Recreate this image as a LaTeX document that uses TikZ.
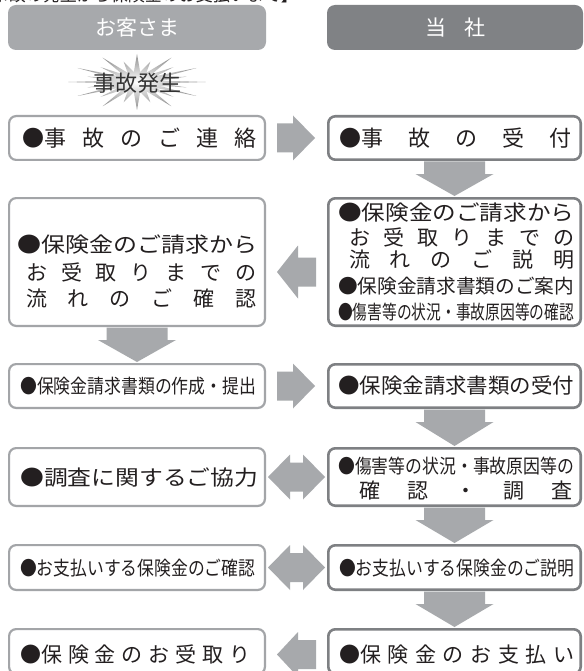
\documentclass[tikz,border=0pt]{standalone}
\usepackage{fontspec}
\usepackage{graphicx}
\usetikzlibrary{calc}
\newfontfamily\jp{Noto Sans CJK JP}
\definecolor{hdrL}{HTML}{A7A9AC}
\definecolor{hdrR}{HTML}{808285}
\definecolor{bordL}{HTML}{A3A5A8}
\definecolor{bordR}{HTML}{7E8083}
\definecolor{arrc}{HTML}{A7A9AC}
\definecolor{txtc}{HTML}{231F20}
\newcommand\spreadline[2]{\hbox to #1{#2}}
\newcommand\fitline[2]{\resizebox{#1}{\height}{#2}}
\newcommand\fs[1]{\fontsize{#1}{#1}\selectfont}
% right arrow between two nodes
\newcommand\rarrow[2]{\fill[arrc] let \p1=(#1.east), \p2=(#2.west) in
  (\x1+11pt,\y1+14.5pt) -- (\x1+27pt,\y1+14.5pt) -- (\x1+27pt,\y1+22.5pt) -- (\x2-12pt,\y1)
  -- (\x1+27pt,\y1-22.5pt) -- (\x1+27pt,\y1-14.5pt) -- (\x1+11pt,\y1-14.5pt) -- cycle;}
% left arrow: #1 right node, #2 left node, #3 downward offset, #4 head half height
\newcommand\larrow[4]{\fill[arrc] let \p1=(#2.east), \p2=(#1.west) in
  (\x1+11pt,\y1-#3pt) -- (\x1+32pt,\y1-#3pt+#4pt) -- (\x1+32pt,\y1-#3pt+14.5pt) -- (\x2-11pt,\y1-#3pt+14.5pt)
  -- (\x2-11pt,\y1-#3pt-14.5pt) -- (\x1+32pt,\y1-#3pt-14.5pt) -- (\x1+32pt,\y1-#3pt-#4pt) -- cycle;}
% double arrow: #1 left node, #2 right node
\newcommand\dblarrow[2]{\fill[arrc] let \p1=(#1.east), \p2=(#2.west) in
  (\x1+2pt,\y1) -- (\x1+24pt,\y1+22.5pt) -- (\x1+24pt,\y1+14.5pt) -- (\x2-24pt,\y1+14.5pt) -- (\x2-24pt,\y1+22.5pt)
  -- (\x2-2pt,\y1) -- (\x2-24pt,\y1-22.5pt) -- (\x2-24pt,\y1-14.5pt) -- (\x1+24pt,\y1-14.5pt) -- (\x1+24pt,\y1-22.5pt) -- cycle;}
% down arrow: #1 upper node, #2 lower node
\newcommand\darrow[2]{\fill[arrc] let \p1=(#1.south), \p2=(#2.north) in
  (\x1-30.5pt,\y1-0.5pt) -- (\x1+30.5pt,\y1-0.5pt) -- (\x1+30.5pt,\y1-13pt) -- (\x1+39pt,\y1-13pt)
  -- (\x1,\y2+1pt) -- (\x1-39pt,\y1-13pt) -- (\x1-30.5pt,\y1-13pt) -- cycle;}
\begin{document}
\begin{tikzpicture}[x=1pt,y=-1pt,
  lbox/.style={draw=bordL, line width=2.2pt, rounded corners=7pt, fill=white, inner sep=0pt, minimum width=255.8pt},
  rbox/.style={draw=bordR, line width=2.6pt, rounded corners=7pt, fill=white, inner sep=0pt, minimum width=252.4pt},
  hdr/.style={rounded corners=8pt, inner sep=0pt, minimum height=45pt, text=white, font=\jp\fs{21}},
  txt/.style={inner sep=0pt, anchor=west, text=txtc, font=\jp\fs{21}},
  txts/.style={txt, font=\jp\fs{19.5}}]
\useasboundingbox (0,0) rectangle (583,671);
\clip (0,0) rectangle (583,671);
\fill[white] (0,0) rectangle (583,671);
% clipped title at the top edge
\node[inner sep=0pt, anchor=base east, text=txtc, font=\jp\fs{17}] (title) at (298,2) {【事故の発生から保険金のお支払いまで】};
% headers
\node[hdr, fill=hdrL, minimum width=258pt] (hL) at (137,27.5) {お客さま};
\node[hdr, fill=hdrR, minimum width=256pt] (hR) at (455,27.5) {当\hspace{18pt}社};
% star
\begin{scope}[shift={(137,82)}, xscale=2.45]
  \shade[inner color=white, outer color=black!45]
    (0:28) \foreach \i in {1,...,47} { -- ({\i*7.5}:{mod(\i,2)==1 ? 10 : (mod(\i,4)==0 ? 28 : 21)}) } -- cycle;
\end{scope}
\node[inner sep=0pt, text=black!80, font=\jp\fs{22}] (acc) at (137,83) {事故発生};
% boxes
\node[lbox, minimum height=43.8pt] (b1L) at (137,138) {};
\node[rbox, minimum height=43.4pt] (b1R) at (454.5,138) {};
\node[lbox, minimum height=127.8pt] (b2L) at (137,262) {};
\node[rbox, minimum height=127.4pt] (b2R) at (454.5,262) {};
\node[lbox, minimum height=43.8pt] (b3L) at (137,386) {};
\node[rbox, minimum height=43.4pt] (b3R) at (454.5,386) {};
\node[lbox, minimum height=57.8pt] (b4L) at (137,477) {};
\node[rbox, minimum height=57.4pt] (b4R) at (454.5,477) {};
\node[lbox, minimum height=44.8pt] (b5L) at (137,567.5) {};
\node[rbox, minimum height=44.4pt] (b5R) at (454.5,567.5) {};
\node[lbox, minimum height=44.8pt] (b6L) at (137,651.5) {};
\node[rbox, minimum height=44.4pt] (b6R) at (454.5,651.5) {};
% arrows
\rarrow{b1L}{b1R}
\darrow{b1R}{b2R}
\larrow{b2R}{b2L}{10}{26.5}
\darrow{b2L}{b3L}
\rarrow{b3L}{b3R}
\darrow{b3R}{b4R}
\dblarrow{b4L}{b4R}
\darrow{b4R}{b5R}
\dblarrow{b5L}{b5R}
\darrow{b5R}{b6R}
\larrow{b6R}{b6L}{3}{22.5}
% texts
\node[txt, font=\jp\fs{22}] (t1L) at (22,138) {\spreadline{234pt}{●事\hfill 故\hfill の\hfill ご\hfill 連\hfill 絡}};
\node[txt, font=\jp\fs{22}] (t1R) at (339,138) {\spreadline{232pt}{●事\hfill 故\hfill の\hfill 受\hfill 付}};
\node[txt] (t2La) at (17,245) {\fitline{240pt}{●保険金のご請求から}};
\node[txt] (t2Lb) at (26,272) {\spreadline{230pt}{お\hfill 受\hfill 取\hfill り\hfill ま\hfill で\hfill の}};
\node[txt] (t2Lc) at (26,298) {\spreadline{230pt}{流\hfill れ\hfill の\hfill ご\hfill 確\hfill 認}};
\node[txt] (t2Ra) at (338,213) {\fitline{236pt}{●保険金のご請求から}};
\node[txt] (t2Rb) at (349,237) {\spreadline{225pt}{お\hfill 受\hfill 取\hfill り\hfill ま\hfill で\hfill の}};
\node[txt] (t2Rc) at (349,260) {\spreadline{225pt}{流\hfill れ\hfill の\hfill ご\hfill 説\hfill 明}};
\node[txts] (t2Rd) at (338,286) {\fitline{236pt}{●保険金請求書類のご案内}};
\node[txts] (t2Re) at (338,312) {\fitline{236pt}{●傷害等の状況・事故原因等の確認}};
\node[txts] (t3L) at (20,386) {\fitline{236pt}{●保険金請求書類の作成・提出}};
\node[txt] (t3R) at (338,386) {\fitline{236pt}{●保険金請求書類の受付}};
\node[txt] (t4L) at (20,478) {\fitline{238pt}{●調査に関するご協力}};
\node[txts] (t4Ra) at (338,466) {\fitline{236pt}{●傷害等の状況・事故原因等の}};
\node[txt] (t4Rb) at (359,491) {\spreadline{213pt}{確\hfill 認\hfill ・\hfill 調\hfill 査}};
\node[txts] (t5L) at (20,568) {\fitline{235pt}{●お支払いする保険金のご確認}};
\node[txts] (t5R) at (339,568) {\fitline{235pt}{●お支払いする保険金のご説明}};
\node[txt] (t6L) at (20,655) {\spreadline{230pt}{●保\hfill 険\hfill 金\hfill の\hfill お\hfill 受\hfill 取\hfill り}};
\node[txt] (t6R) at (339,655) {\spreadline{235pt}{●保\hfill 険\hfill 金\hfill の\hfill お\hfill 支\hfill 払\hfill い}};
\end{tikzpicture}
\end{document}
